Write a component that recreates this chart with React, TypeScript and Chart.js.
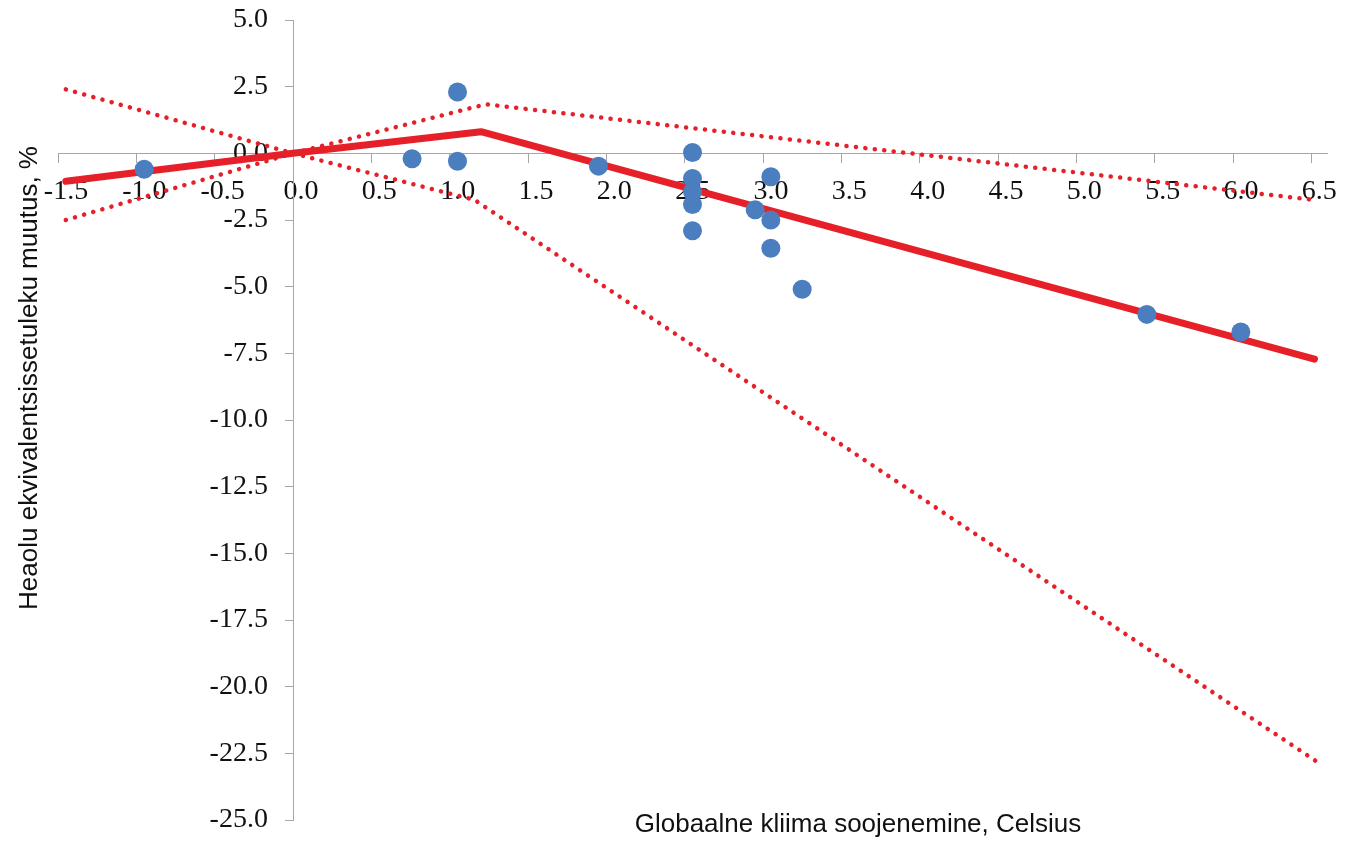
import React, { useEffect, useRef } from 'react';
import { Chart, registerables } from 'chart.js';

Chart.register(...registerables);

// Observed points (warming °C, welfare change %)
const pointX = [-0.95, 0.76, 1.05, 1.05, 1.95, 2.55, 2.55, 2.55, 2.55, 2.55, 2.95, 3.05, 3.05, 3.05, 3.25, 5.45, 6.05];
const pointY = [-0.6, -0.2, 2.3, -0.3, -0.48, 0.03, -0.94, -1.44, -1.92, -2.9, -2.12, -0.88, -2.5, -3.56, -5.1, -6.04, -6.7];

// Fitted piecewise-linear curve
const fitX = [-1.45, 0, 1.2, 6.52];
const fitY = [-1.05, 0, 0.81, -7.72];

// Upper confidence bound
const upperX = [-1.45, 0, 1.23, 6.52];
const upperY = [2.4, 0, 1.84, -1.75];

// Lower confidence bound
const lowerX = [-1.45, 0, 1.16, 6.55];
const lowerY = [-2.5, 0, -1.75, -22.87];

const xTicks = [-1.5, -1.0, -0.5, 0.0, 0.5, 1.0, 1.5, 2.0, 2.5, 3.0, 3.5, 4.0, 4.5, 5.0, 5.5, 6.0, 6.5];
const yTicks = [5.0, 2.5, 0.0, -2.5, -5.0, -7.5, -10.0, -12.5, -15.0, -17.5, -20.0, -22.5, -25.0];

const xTitle = 'Globaalne kliima soojenemine, Celsius';
const yTitle = 'Heaolu ekvivalentsissetuleku muutus, %';

const RED = 'rgb(230, 32, 40)';
const BLUE = '#4a7ebf';
const AXIS = '#a6a6a6';
const TICK_FONT = { family: '"Liberation Serif", "Times New Roman", serif', size: 28 };

const titlePlugin = {
  id: 'outerTitles',
  afterDraw(chart: any) {
    const ctx = chart.ctx;
    ctx.save();
    ctx.fillStyle = '#111';
    ctx.font = '26px "Liberation Sans", Arial, sans-serif';
    ctx.textAlign = 'center';
    ctx.textBaseline = 'middle';
    ctx.fillText(xTitle, 858, 825);
    ctx.translate(30, 378);
    ctx.rotate(-Math.PI / 2);
    ctx.fillText(yTitle, 0, 0);
    ctx.restore();
  },
};

const toPts = (xs: number[], ys: number[]) => xs.map((x, i) => ({ x, y: ys[i] }));

export default function App() {
  const ref = useRef<HTMLCanvasElement | null>(null);

  useEffect(() => {
    if (!ref.current) return;
    const chart = new Chart(ref.current, {
      type: 'scatter',
      data: {
        datasets: [
          {
            label: 'points',
            data: toPts(pointX, pointY),
            backgroundColor: BLUE,
            borderWidth: 0,
            pointRadius: 9.5,
            pointHoverRadius: 9.5,
            order: 0,
          },
          {
            label: 'fit',
            data: toPts(fitX, fitY),
            showLine: true,
            borderColor: RED,
            borderWidth: 7,
            borderCapStyle: 'round',
            borderJoinStyle: 'round',
            pointRadius: 0,
            order: 1,
          },
          {
            label: 'upper',
            data: toPts(upperX, upperY),
            showLine: true,
            borderColor: RED,
            borderWidth: 4.5,
            borderCapStyle: 'round',
            borderDash: [0.1, 9.4],
            pointRadius: 0,
            order: 2,
          },
          {
            label: 'lower',
            data: toPts(lowerX, lowerY),
            showLine: true,
            borderColor: RED,
            borderWidth: 4.5,
            borderCapStyle: 'round',
            borderDash: [0.1, 9.4],
            pointRadius: 0,
            order: 3,
          },
        ] as any,
      },
      options: {
        animation: false,
        responsive: true,
        maintainAspectRatio: false,
        layout: { padding: { left: 58, right: 35, top: 20, bottom: 24 } },
        plugins: { legend: { display: false }, tooltip: { enabled: false } },
        scales: {
          x: {
            type: 'linear',
            position: { y: 0 } as any,
            min: -1.5,
            max: 6.6,
            afterBuildTicks: (s: any) => { s.ticks = xTicks.map((v) => ({ value: v })); },
            grid: { drawOnChartArea: false, drawTicks: true, tickLength: 9, color: AXIS, lineWidth: 1 },
            border: { display: true, color: AXIS, width: 1 },
            ticks: { display: false },
          },
          x2: {
            type: 'linear',
            axis: 'x',
            position: { y: 0 } as any,
            min: -1.5,
            max: 6.6,
            z: 1,
            afterBuildTicks: (s: any) => { s.ticks = xTicks.map((v) => ({ value: v })); },
            grid: { display: false, drawTicks: false, tickLength: 0 },
            border: { display: false },
            ticks: {
              autoSkip: false,
              maxRotation: 0,
              minRotation: 0,
              padding: 22,
              labelOffset: 8,
              color: '#111',
              font: TICK_FONT,
              callback: (v: any) => Number(v).toFixed(1),
            },
          },
          y: {
            type: 'linear',
            position: { x: 0 } as any,
            min: -25,
            max: 5,
            afterBuildTicks: (s: any) => { s.ticks = yTicks.map((v) => ({ value: v })); },
            grid: { drawOnChartArea: false, drawTicks: true, tickLength: 8, color: AXIS, lineWidth: 1 },
            border: { display: true, color: AXIS, width: 1 },
            ticks: { display: false },
          },
          y2: {
            type: 'linear',
            axis: 'y',
            position: { x: -0.16 } as any,
            min: -25,
            max: 5,
            afterBuildTicks: (s: any) => { s.ticks = yTicks.map((v) => ({ value: v })); },
            grid: { display: false, drawTicks: false, tickLength: 0 },
            border: { display: false },
            ticks: {
              autoSkip: false,
              padding: 0,
              color: '#111',
              font: TICK_FONT,
              callback: (v: any) => Number(v).toFixed(1),
            },
          },
        } as any,
      },
      plugins: [titlePlugin],
    });
    return () => chart.destroy();
  }, []);

  return (
    <div style={{ position: 'fixed', left: 0, top: 0, width: 1362, height: 844, background: '#fff' }}>
      <canvas ref={ref} />
    </div>
  );
}
